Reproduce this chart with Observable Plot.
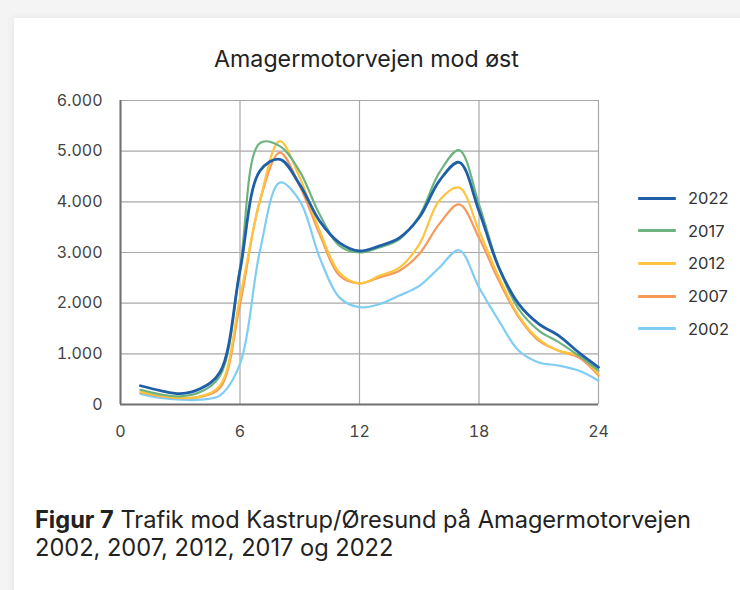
<!DOCTYPE html>
<html>
<head>
<meta charset="utf-8">
<script src="https://cdn.jsdelivr.net/npm/d3@7"></script>
<script src="https://cdn.jsdelivr.net/npm/@observablehq/plot@0.6"></script>
<style>
  html, body { margin: 0; padding: 0; }
  body { width: 740px; height: 590px; background: #f4f4f4; position: relative; overflow: hidden; font-family: Inter, "Noto Sans", sans-serif; }
  #card { position: absolute; left: 14px; top: 18px; right: -20px; bottom: -20px; background: #fff; box-shadow: 0 0 8px rgba(0,0,0,0.07); }
  #title { position: absolute; left: 0; width: 733px; top: 46px; text-align: center; font-size: 23.2px; line-height: 26px; color: #222; }
  #chart { position: absolute; left: 0; top: 80px; }
  #legend { position: absolute; left: 638px; top: 182px; }
  .row { display: flex; align-items: center; height: 32.6px; font-size: 16.5px; color: #333; }
  .sw { width: 38px; height: 3px; margin-right: 12px; border-radius: 1px; }
  #caption { position: absolute; left: 35px; top: 506px; font-size: 23.6px; line-height: 28px; color: #222; }
</style>
</head>
<body>
<div id="card"></div>
<div id="title">Amagermotorvejen mod øst</div>
<div id="chart"></div>
<div id="legend"></div>
<div id="caption"><b>Figur 7</b> Trafik mod Kastrup/Øresund på Amagermotorvejen<br>2002, 2007, 2012, 2017 og 2022</div>
<script>
const hours = [1,2,3,4,5,6,7,8,9,10,11,12,13,14,15,16,17,18,19,20,21,22,23,24];
const years = ["2022","2017","2012","2007","2002"];
const colors = ["#1f5fa8","#6cb381","#fdc53e","#f59a5c","#80cdf3"];
const v2022 = [370,275,215,310,640,2640,4610,4840,4340,3620,3190,3030,3130,3290,3690,4410,4780,3820,2700,1980,1590,1360,1030,735];
const v2017 = [290,200,160,245,570,2700,5160,5100,4600,3750,3130,3000,3100,3260,3720,4570,5020,3950,2700,1880,1460,1230,965,670];
const v2012 = [250,175,130,160,375,2110,4020,5200,4480,3430,2600,2390,2540,2700,3160,4020,4280,3430,2510,1750,1290,1060,965,600];
const v2007 = [240,165,125,150,330,1980,4020,4970,4310,3360,2540,2390,2510,2640,2970,3560,3950,3290,2440,1720,1260,1060,930,570];
const v2002 = [210,130,95,95,180,800,3030,4380,4020,2900,2110,1920,1980,2150,2340,2700,3045,2310,1650,1060,830,770,670,470];
const xTicks = [0,6,12,18,24];
const yTicks = [0,1000,2000,3000,4000,5000,6000];

const seriesValues = {"2022": v2022, "2017": v2017, "2012": v2012, "2007": v2007, "2002": v2002};
const rows = [];
for (const y of years) hours.forEach((h, i) => rows.push({hour: h, value: seriesValues[y][i], year: y}));

const fmt = d => d === 0 ? "0" : d3.format(",")(d).replace(/,/g, ".");
const drawOrder = ["2002","2007","2012","2017","2022"];

const chart = Plot.plot({
  width: 740,
  height: 370,
  marginLeft: 120,
  marginRight: 142,
  marginTop: 20,
  marginBottom: 46,
  x: {domain: [0, 24]},
  y: {domain: [0, 6000]},
  color: {domain: years, range: colors},
  style: {fontFamily: "Inter, sans-serif", fontSize: "16px", color: "#444", background: "transparent"},
  marks: [
    Plot.gridX(xTicks, {stroke: "#a8a8a8", strokeOpacity: 1, strokeWidth: 1.2}),
    Plot.gridY(yTicks, {stroke: "#a8a8a8", strokeOpacity: 1, strokeWidth: 1.2}),
    Plot.ruleX([0], {stroke: "#707070", strokeWidth: 2}),
    Plot.ruleY([0], {stroke: "#707070", strokeWidth: 2}),
    ...drawOrder.map(y => Plot.lineY(rows.filter(r => r.year === y), {
      x: "hour", y: "value", stroke: "year", curve: "catmull-rom",
      strokeWidth: y === "2022" ? 2.8 : 2.2
    })),
    Plot.axisX(xTicks, {tickSize: 0, tickPadding: 21, tickFormat: d => d, label: null, fontSize: 16}),
    Plot.axisY(yTicks, {tickSize: 0, tickPadding: 18, tickFormat: fmt, label: null, fontSize: 16})
  ]
});
document.getElementById("chart").appendChild(chart);

const legend = document.getElementById("legend");
years.forEach((y, i) => {
  const row = document.createElement("div");
  row.className = "row";
  row.innerHTML = `<div class="sw" style="background:${colors[i]}"></div><span>${y}</span>`;
  legend.appendChild(row);
});
</script>
</body>
</html>
